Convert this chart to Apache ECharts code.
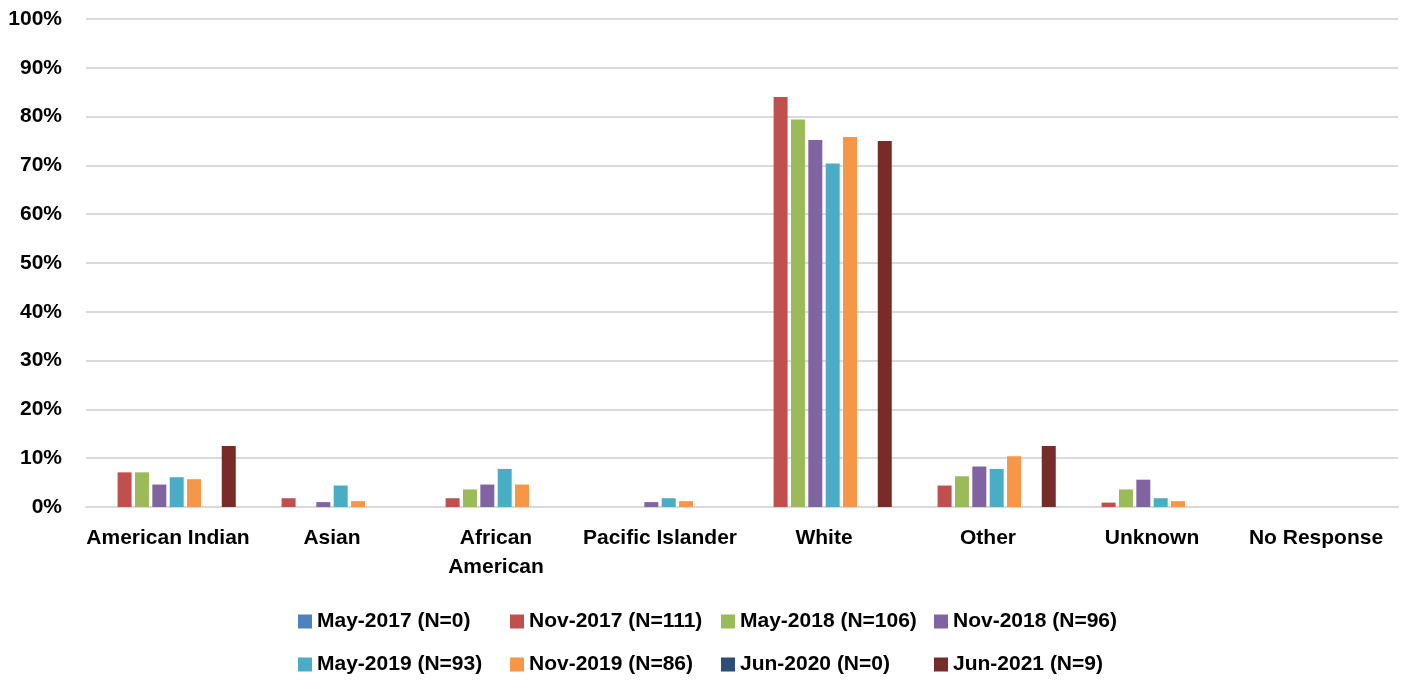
<!DOCTYPE html>
<html>
<head>
<meta charset="utf-8">
<script src="https://cdn.jsdelivr.net/npm/echarts@6/dist/echarts.min.js"></script>
<style>
  html, body { margin: 0; padding: 0; background: #fff; }
  #chart { width: 1411px; height: 681px; }
</style>
</head>
<body>
<div id="chart"></div>
<script>
// categories on the x axis
const categories = ["American Indian", "Asian", "African\nAmerican", "Pacific Islander", "White", "Other", "Unknown", "No Response"];
const yTicks = [0, 10, 20, 30, 40, 50, 60, 70, 80, 90, 100];

// survey waves (legend names)
const waves = [
  "May-2017 (N=0)", "Nov-2017 (N=111)", "May-2018 (N=106)", "Nov-2018 (N=96)",
  "May-2019 (N=93)", "Nov-2019 (N=86)", "Jun-2020 (N=0)", "Jun-2021 (N=9)"
];

// percent values per wave, one per category
const may2017 = [0, 0, 0, 0, 0, 0, 0, 0];
const nov2017 = [7.1, 1.8, 1.8, 0, 84.0, 4.4, 0.9, 0];
const may2018 = [7.1, 0, 3.6, 0, 79.4, 6.3, 3.6, 0];
const nov2018 = [4.6, 1.0, 4.6, 1.0, 75.2, 8.3, 5.6, 0];
const may2019 = [6.1, 4.4, 7.8, 1.8, 70.4, 7.8, 1.8, 0];
const nov2019 = [5.7, 1.2, 4.6, 1.2, 75.8, 10.4, 1.2, 0];
const jun2020 = [0, 0, 0, 0, 0, 0, 0, 0];
const jun2021 = [12.5, 0, 0, 0, 75.0, 12.5, 0, 0];

const seriesData = [may2017, nov2017, may2018, nov2018, may2019, nov2019, jun2020, jun2021];
const colors = ["#4F81BD", "#C0504D", "#9BBB59", "#8064A2", "#4BACC6", "#F79646", "#2C4D75", "#772C2A"];

const font = "'Liberation Sans', Arial, sans-serif";

let myChart = echarts.init(document.getElementById("chart"));

// one legend per item so the columns line up like the original
const legendLeft = [293, 505, 716, 929];
const legends = waves.map(function (name, i) {
  return {
    data: [name],
    left: legendLeft[i % 4],
    top: i < 4 ? 606 : 649,
    itemWidth: 14,
    itemHeight: 14,
    icon: "rect",
    itemGap: 0,
    textStyle: { fontFamily: font, fontWeight: "bold", fontSize: 21, color: "#000" },
    selectedMode: false
  };
});

let option = {
  animation: false,
  color: colors,
  grid: { left: 86, right: 13, top: 19, bottom: 174 },
  legend: legends,
  xAxis: {
    type: "category",
    data: categories,
    axisTick: { show: false },
    axisLine: { lineStyle: { color: "#d9d9d9", width: 2 } },
    axisLabel: {
      interval: 0,
      margin: 17,
      fontFamily: font,
      fontWeight: "bold",
      fontSize: 21,
      lineHeight: 29,
      color: "#000"
    }
  },
  yAxis: {
    type: "value",
    min: 0,
    max: 100,
    interval: 10,
    axisLine: { show: false },
    axisTick: { show: false },
    splitLine: { lineStyle: { color: "#d9d9d9", width: 2 } },
    axisLabel: {
      margin: 24,
      fontFamily: font,
      fontWeight: "bold",
      fontSize: 21,
      color: "#000",
      formatter: function (v) { return yTicks.indexOf(v) >= 0 ? v + "%" : ""; }
    }
  },
  series: seriesData.map(function (d, i) {
    return {
      name: waves[i],
      type: "bar",
      data: d,
      barWidth: 14,
      barGap: "24%"
    };
  })
};

myChart.setOption(option);
window.addEventListener("resize", function () {
  myChart.resize();
});
</script>
</body>
</html>
